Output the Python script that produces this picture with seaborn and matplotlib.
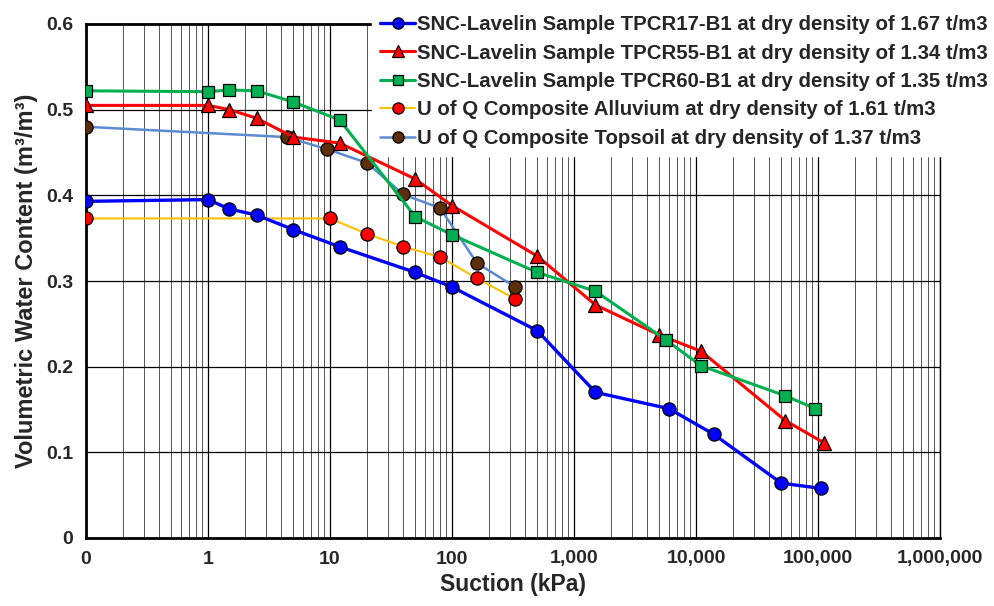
import matplotlib
matplotlib.use("Agg")
import matplotlib.pyplot as plt
import seaborn as sns
import numpy as np
import pandas as pd
from matplotlib.ticker import FixedLocator, LogLocator, NullFormatter

# ---- data ----
s17_x = [0.1, 1, 1.5, 2.5, 5, 12, 50, 100, 500, 1500, 6000, 14000, 50000, 105000]
s17_y = [0.393, 0.395, 0.384, 0.377, 0.360, 0.340, 0.310, 0.293, 0.242, 0.170, 0.151, 0.121, 0.064, 0.058]

s55_x = [0.1, 1, 1.5, 2.5, 5, 12, 50, 100, 500, 1500, 5000, 11000, 54000, 112000]
s55_y = [0.505, 0.505, 0.500, 0.490, 0.468, 0.461, 0.419, 0.388, 0.329, 0.272, 0.237, 0.218, 0.137, 0.111]

s60_x = [0.1, 1, 1.5, 2.5, 5, 12, 50, 100, 500, 1500, 5700, 11000, 54000, 95000]
s60_y = [0.522, 0.521, 0.523, 0.522, 0.509, 0.488, 0.375, 0.354, 0.310, 0.288, 0.231, 0.201, 0.166, 0.151]

allu_x = [0.1, 10, 20, 40, 80, 160, 330]
allu_y = [0.373, 0.373, 0.355, 0.340, 0.328, 0.303, 0.279]

tops_x = [0.1, 4.4, 9.4, 20, 40, 80, 160, 330]
tops_y = [0.480, 0.468, 0.454, 0.438, 0.401, 0.385, 0.321, 0.293]

labels = [
    "SNC-Lavelin Sample TPCR17-B1 at dry density of 1.67 t/m3",
    "SNC-Lavelin Sample TPCR55-B1 at dry density of 1.34 t/m3",
    "SNC-Lavelin Sample TPCR60-B1 at dry density of 1.35 t/m3",
    "U of Q Composite Alluvium at dry density of 1.61 t/m3",
    "U of Q Composite Topsoil at dry density of 1.37 t/m3",
]
xtick_vals = [0.1, 1, 10, 100, 1000, 10000, 100000, 1000000]
xtick_labels = ["0", "1", "10", "100", "1,000", "10,000", "100,000", "1,000,000"]
ytick_vals = [0, 0.1, 0.2, 0.3, 0.4, 0.5, 0.6]
ytick_labels = ["0", "0.1", "0.2", "0.3", "0.4", "0.5", "0.6"]

sns.set_theme(style="white")
plt.rcParams['font.family'] = ['Liberation Sans', 'DejaVu Sans']

fig = plt.figure(figsize=(9.95, 6.06), dpi=100)
ax = fig.add_axes([86/995, 1-538/606, (940-86)/995, (538-24)/606])

styles = [
    (s17_x, s17_y, "#0000FF", "o", "#0000FF", 2.4, 9.5),
    (s55_x, s55_y, "#FF0000", "^", "#FF0000", 2.2, 9.5),
    (s60_x, s60_y, "#00B050", "s", "#00B050", 2.2, 9.0),
    (allu_x, allu_y, "#FFC000", "o", "#FF0000", 1.5, 9.5),
    (tops_x, tops_y, "#5B8BD0", "o", "#5C2E0A", 1.8, 9.5),
]
order_z = [5, 4, 6, 3, 3.5]
for (xs, ys, lc, mk, mc, lw, ms), lab, z in zip(styles, labels, order_z):
    df = pd.DataFrame({"x": xs, "y": ys})
    sns.lineplot(data=df, x="x", y="y", ax=ax, color=lc, linewidth=lw, marker=mk,
                 markersize=ms, markerfacecolor=mc, markeredgecolor="black",
                 markeredgewidth=0.9, sort=False, estimator=None, label=lab, zorder=z)

ax.set_xscale("log")
ax.set_xlim(0.1, 1e6)
ax.set_ylim(0, 0.6)
ax.xaxis.set_major_locator(FixedLocator(xtick_vals))
ax.set_xticklabels(xtick_labels)
ax.xaxis.set_minor_locator(LogLocator(base=10, subs=np.arange(2, 10)))
ax.xaxis.set_minor_formatter(NullFormatter())
ax.set_yticks(ytick_vals)
ax.set_yticklabels(ytick_labels)

ax.grid(True, which="major", axis="both", color="black", linewidth=0.9)
ax.grid(True, which="minor", axis="x", color="#555555", linewidth=0.7)
ax.set_axisbelow(True)
ax.tick_params(axis="both", which="both", length=0, labelsize=14, pad=9)
for t in ax.get_xticklabels() + ax.get_yticklabels():
    t.set_fontweight("bold")

for sp in ax.spines.values():
    sp.set_color("black")
    sp.set_linewidth(2)
ax.spines["right"].set_linewidth(1)

ax.set_xlabel("Suction (kPa)", fontsize=16.5, fontweight="bold", labelpad=4)
ax.set_ylabel("Volumetric Water Content (m³/m³)", fontsize=17, fontweight="bold", labelpad=6)

leg = ax.legend(loc="upper left", bbox_to_anchor=(372/995, 1 - 7/606), bbox_transform=fig.transFigure,
                prop={"weight": "bold", "size": 14.7}, frameon=True, fancybox=False,
                handlelength=1.7, handletextpad=0.1, labelspacing=0.46, borderpad=0.4,
                borderaxespad=0, markerscale=0.85)
leg.get_frame().set_facecolor("white")
leg.get_frame().set_edgecolor("white")
leg.get_frame().set_alpha(1)
leg.set_zorder(10)

fig.savefig("out.png", dpi=100)
